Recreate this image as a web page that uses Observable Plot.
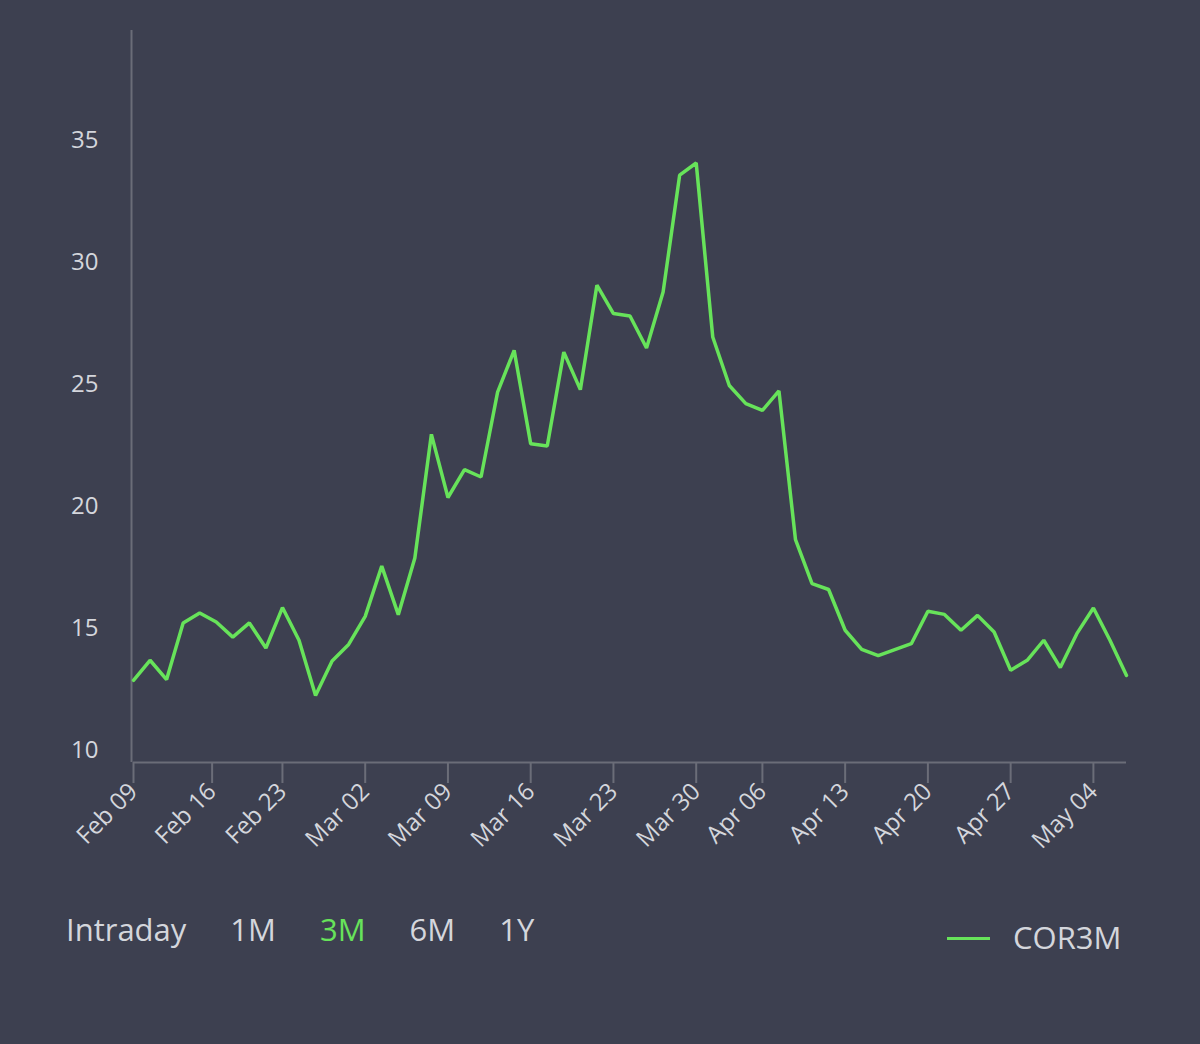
<!DOCTYPE html>
<html>
<head>
<meta charset="utf-8">
<script src="https://cdn.jsdelivr.net/npm/d3@7"></script>
<script src="https://cdn.jsdelivr.net/npm/@observablehq/plot@0.6"></script>
<style>
  html, body { margin: 0; padding: 0; background: #3d4050; }
  body { width: 1200px; height: 1044px; position: relative; overflow: hidden; font-family: "Open Sans", sans-serif; }
  #chart { position: absolute; left: 0; top: 0; }
  #ranges { position: absolute; left: 66px; top: 914px; display: flex; gap: 44px; font-size: 31px; line-height: 31px; color: #d4d6dc; }
  #swatch { position: absolute; left: 947px; top: 937px; width: 43px; height: 3px; }
  #legendText { position: absolute; left: 1013px; top: 922px; font-size: 31px; line-height: 31px; color: #d4d6dc; }
</style>
</head>
<body>
<div id="chart"></div>
<div id="ranges"></div>
<div id="swatch"></div>
<div id="legendText"></div>
<script>
// Series: COR3M, one value per trading day (index 0 = first session shown)
const values = [
  12.87, 13.69, 12.90, 15.22, 15.63, 15.26, 14.64, 15.22, 14.19, 15.85,
  14.51, 12.25, 13.66, 14.34, 15.49, 17.55, 15.56, 17.88, 22.95, 20.36,
  21.50, 21.20, 24.68, 26.39, 22.56, 22.47, 26.32, 24.78, 29.06, 27.90,
  27.80, 26.49, 28.78, 33.57, 34.07, 26.94, 24.95, 24.21, 23.93, 24.73,
  18.63, 16.83, 16.59, 14.92, 14.14, 13.88, 14.13, 14.37, 15.70, 15.57,
  14.92, 15.53, 14.85, 13.28, 13.69, 14.51, 13.39, 14.78, 15.83, 14.51,
  13.07
];
// Week tick labels and their positions on the trading-day index
const tickLabels = ["Feb 09", "Feb 16", "Feb 23", "Mar 02", "Mar 09", "Mar 16", "Mar 23",
                    "Mar 30", "Apr 06", "Apr 13", "Apr 20", "Apr 27", "May 04"];
const tickPositions = [0, 4.75, 9, 14, 19, 24, 29, 34, 38, 43, 48, 53, 58];
const yTicks = [10, 15, 20, 25, 30, 35];
const seriesName = "COR3M";
const ranges = ["Intraday", "1M", "3M", "6M", "1Y"];
const selectedRange = "3M";

const green = "#67e35a";
const textColor = "#d4d6dc";
const axisColor = "#6b6d78";

const data = values.map((v, i) => ({ i, v }));
const labelAt = new Map(tickPositions.map((p, k) => [p, tickLabels[k]]));

const chart = Plot.plot({
  width: 1200,
  height: 880,
  marginTop: 30,
  marginLeft: 133,
  marginRight: 74,
  marginBottom: 118,
  style: { background: "transparent", color: textColor, fontFamily: "Open Sans, sans-serif", fontSize: "24px" },
  x: { domain: [0, values.length - 1], axis: null },
  y: { domain: [9.5, 39.5], axis: null },
  marks: [
    Plot.axisY({ ticks: yTicks, tickSize: 0, tickPadding: 35, label: null, fontSize: 24, fill: textColor }),
    Plot.axisX({ ticks: tickPositions, tickFormat: d => labelAt.get(d), tickRotate: -45, tickSize: 21, tickPadding: 4,
                 label: null, fontSize: 24, stroke: axisColor, strokeWidth: 2, fill: textColor }),
    Plot.ruleX([0], { stroke: axisColor, strokeWidth: 2, dx: -2 }),
    Plot.ruleY([9.5], { stroke: axisColor, strokeWidth: 2 }),
    Plot.lineY(data, { x: "i", y: "v", stroke: green, strokeWidth: 3.5, strokeLinejoin: "miter" })
  ]
});
document.getElementById("chart").appendChild(chart);

const rangesEl = document.getElementById("ranges");
for (const r of ranges) {
  const s = document.createElement("span");
  s.textContent = r;
  if (r === selectedRange) s.style.color = green;
  rangesEl.appendChild(s);
}
document.getElementById("swatch").style.background = green;
document.getElementById("legendText").textContent = seriesName;
</script>
</body>
</html>
